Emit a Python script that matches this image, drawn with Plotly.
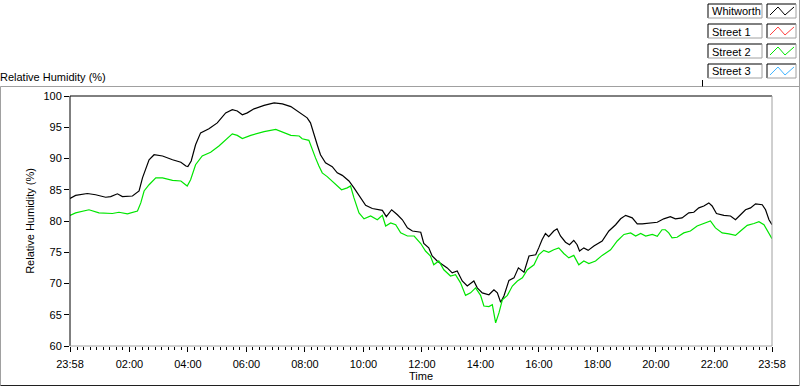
import plotly.graph_objects as go
from datetime import datetime, timedelta

# ---------------- data (minutes elapsed since 23:58 of the previous day) ----------------
whitworth_min = [0, 11.5, 35.6, 52.6, 73.2, 83.5, 97.3, 107.5, 128.1, 141.7, 148.7, 155.4, 162.2, 172.5,
                 189.8, 210.3, 227.4, 237.7, 241.8, 248.6, 257.6, 267.9, 285.0, 302.1, 319.3, 332.9,
                 343.2, 353.5, 363.7, 377.5, 398.1, 418.6, 435.7, 453.0, 470.1, 480.3, 486.5, 493.3,
                 500.3, 507.1, 513.8, 524.1, 537.9, 548.2, 558.5, 572.2, 582.5, 592.8, 606.4, 620.1,
                 640.7, 648.9, 659.8, 671.6, 681.8, 692.1, 702.4, 719.5, 725.7, 735.9, 742.9, 753.2,
                 763.5, 773.8, 784.0, 794.3, 804.6, 814.9, 828.4, 835.4, 845.7, 859.3, 869.6, 876.6,
                 883.4, 890.1, 900.4, 910.7, 919.8, 931.3, 941.5, 955.3, 961.5, 968.3, 975.3, 982.0,
                 992.3, 999.1, 1006.1, 1016.4, 1024.6, 1033.4, 1040.2, 1045.2, 1054.0, 1062.9, 1074.6,
                 1091.6, 1105.4, 1119.2, 1129.5, 1139.8, 1153.3, 1163.6, 1173.9, 1187.7, 1204.7, 1217.9,
                 1231.5, 1241.8, 1255.5, 1269.3, 1279.6, 1289.9, 1300.2, 1310.4, 1317.2, 1326.1, 1341.3,
                 1354.9, 1365.1, 1375.4, 1385.7, 1396.0, 1406.3, 1420.0, 1426.8, 1433.8, 1440]
whitworth_rh = [83.6, 84.1, 84.4, 84.2, 83.8, 83.9, 84.35, 83.9, 84.0, 84.8, 86.9, 88.5, 89.8, 90.6,
                90.4, 89.8, 89.4, 88.8, 88.7, 89.6, 92.2, 94.1, 94.75, 95.7, 97.3, 97.8,
                97.6, 97.0, 97.3, 97.95, 98.5, 98.9, 98.75, 98.3, 97.4, 96.9, 96.5, 95.7,
                94.1, 92.2, 90.6, 89.3, 88.7, 87.7, 87.3, 86.4, 85.3, 84.0, 82.5, 82.0,
                81.7, 80.7, 81.8, 81.0, 80.2, 78.9, 78.4, 78.2, 76.4, 75.7, 74.4, 73.6,
                73.0, 72.5, 71.7, 72.0, 70.4, 69.6, 70.4, 69.3, 68.5, 68.2, 69.0, 68.5,
                67.0, 68.0, 70.5, 70.9, 72.5, 71.8, 74.4, 74.6, 75.7, 77.0, 78.0, 77.5,
                78.4, 78.75, 77.6, 76.6, 76.2, 76.9, 76.2, 75.2, 75.7, 75.3, 76.0,
                76.8, 78.4, 79.4, 80.35, 80.9, 80.5, 79.55, 79.55, 79.7, 79.8, 80.35,
                80.7, 80.35, 80.5, 81.3, 81.4, 82.1, 82.4, 82.9, 82.4, 81.2, 80.9,
                80.8, 80.2, 81.0, 81.8, 82.1, 82.75, 82.6, 81.8, 80.2, 79.4]

street2_min = [0, 11.5, 38.9, 59.4, 87.0, 100.5, 117.8, 138.4, 145.2, 152.0, 162.2, 176.0, 189.8, 210.3,
               227.4, 237.7, 240.4, 247.4, 257.6, 271.2, 288.5, 305.5, 319.3, 332.9, 343.2, 353.5,
               370.7, 398.1, 422.1, 439.2, 453.0, 470.1, 476.2, 490.0, 496.8, 503.6, 510.6, 517.4,
               527.6, 541.4, 557.0, 568.7, 575.5, 582.5, 592.8, 603.1, 616.7, 630.4, 640.7, 647.5,
               657.8, 668.1, 678.3, 692.1, 705.9, 719.5, 729.2, 739.4, 746.2, 756.5, 766.8, 780.5,
               790.8, 801.1, 811.4, 821.7, 832.0, 842.2, 849.0, 859.3, 866.3, 873.1, 879.9, 886.9,
               897.2, 907.4, 917.7, 928.0, 938.3, 951.8, 961.5, 971.8, 982.0, 992.3, 1002.6, 1012.9,
               1023.2, 1033.4, 1043.7, 1054.0, 1064.3, 1078.1, 1091.6, 1108.9, 1122.5, 1136.3, 1150.1,
               1160.3, 1170.6, 1180.9, 1194.5, 1204.7, 1214.4, 1221.2, 1228.2, 1235.0, 1245.3, 1259.0,
               1272.6, 1286.4, 1300.2, 1313.7, 1324.0, 1337.8, 1351.6, 1365.1, 1375.4, 1389.2, 1403.0,
               1413.2, 1423.5, 1433.8, 1440]
street2_rh = [80.9, 81.3, 81.8, 81.3, 81.2, 81.4, 81.15, 81.6, 82.9, 84.8, 85.8, 86.9, 86.9, 86.5,
              86.4, 85.7, 85.6, 86.6, 89.0, 90.4, 91.0, 92.0, 93.0, 93.95, 93.7, 93.2,
              93.7, 94.3, 94.65, 94.1, 93.7, 93.6, 93.15, 92.9, 91.4, 90.1, 88.8, 87.7,
              87.1, 86.1, 85.0, 85.3, 85.6, 83.7, 81.3, 80.35, 80.8, 80.2, 80.9, 79.2,
              79.7, 79.4, 78.1, 77.6, 77.6, 76.4, 75.2, 74.4, 73.0, 73.6, 72.2, 71.2,
              71.4, 70.1, 68.1, 68.5, 69.3, 68.1, 66.4, 66.3, 66.6, 63.7, 65.3, 67.4,
              68.1, 69.6, 70.4, 70.9, 72.2, 73.0, 74.6, 75.3, 75.0, 75.4, 75.7, 74.8,
              74.1, 74.5, 73.0, 73.6, 73.2, 73.6, 74.5, 75.4, 76.8, 77.85, 78.1,
              77.6, 78.0, 77.6, 77.85, 77.55, 78.6, 78.6, 78.1, 77.3, 77.4, 78.1,
              78.4, 79.2, 79.6, 80.0, 78.9, 78.1, 77.95, 77.7, 78.4, 79.3, 79.6,
              79.9, 79.4, 78.1, 77.15]

legend_names = ["Whitworth", "Street 1", "Street 2", "Street 3"]
legend_colors = ["#000000", "#ff4040", "#00e600", "#40b4ff"]
x_tick_labels = ["23:58", "02:00", "04:00", "06:00", "08:00", "10:00", "12:00",
                 "14:00", "16:00", "18:00", "20:00", "22:00", "23:58"]
y_ticks = [60, 65, 70, 75, 80, 85, 90, 95, 100]

# ---------------- build ----------------
start = datetime(2000, 1, 1, 23, 58)
end = start + timedelta(hours=24)
xw = [start + timedelta(minutes=m) for m in whitworth_min]
xs = [start + timedelta(minutes=m) for m in street2_min]

tickvals = []
for i, lab in enumerate(x_tick_labels):
    if i == 0:
        tickvals.append(start)
    elif i == len(x_tick_labels) - 1:
        tickvals.append(end)
    else:
        h, m = map(int, lab.split(":"))
        tickvals.append(datetime(2000, 1, 2, h, m))

FONT = "Liberation Sans"
fig = go.Figure()
fig.add_trace(go.Scatter(x=xw, y=whitworth_rh, mode="lines", name=legend_names[0],
                         line=dict(color=legend_colors[0], width=1.2), showlegend=False))
fig.add_trace(go.Scatter(x=xs, y=street2_rh, mode="lines", name=legend_names[2],
                         line=dict(color=legend_colors[2], width=1.2), showlegend=False))

W, H = 800, 386
L, R, T, B = 70, 28, 96, 40
PW, PH = W - L - R, H - T - B


def px(x):
    return (x - L) / PW


def py(y):
    return (H - B - y) / PH


shapes = []


def line(x0, y0, x1, y1, color, width=1):
    shapes.append(dict(type="line", xref="paper", yref="paper", x0=px(x0), y0=py(y0),
                       x1=px(x1), y1=py(y1), line=dict(color=color, width=width)))


# plot area frame
line(L, T, L + PW, T, "#000000")
line(L, T, L, T + PH, "#000000")
line(L, T + PH, L + PW, T + PH, "#a0a0a0")
line(L + PW, T, L + PW, T + PH, "#a0a0a0")

# outer frame
line(0.5, 86.5, 799.5, 86.5, "#a0a0a0")
line(0.5, 86.5, 0.5, 385.5, "#a0a0a0")
line(0.5, 385.5, 799.5, 385.5, "#202020")
line(799.5, 0, 799.5, 385.5, "#a0a0a0")
line(702.5, 80, 702.5, 86.5, "#000000")

annotations = []
# legend boxes
for i, (name, col) in enumerate(zip(legend_names, legend_colors)):
    y0 = 4 + 20 * i
    y1 = y0 + 14
    for (a, b) in [(708, 762), (767, 796)]:
        line(a, y0, b, y0, "#000000")
        line(a, y0, a, y1, "#000000")
        line(a, y1, b, y1, "#a0a0a0")
        line(b, y0, b, y1, "#a0a0a0")
    # zigzag sample
    pts = [(770, y1 - 3), (778, y0 + 3), (785, y1 - 3), (794, y0 + 3)]
    path = "M " + " L ".join(f"{px(a)},{py(b)}" for a, b in pts)
    shapes.append(dict(type="path", xref="paper", yref="paper", path=path,
                       line=dict(color=col, width=1)))
    annotations.append(dict(xref="paper", yref="paper", x=px(709.5), y=py(y0 + 7.5),
                            text=name, showarrow=False, xanchor="left", yanchor="middle",
                            font=dict(family=FONT, size=11, color="#000000")))

annotations.append(dict(xref="paper", yref="paper", x=px(-2), y=py(77), text="Relative Humidity (%)",
                        showarrow=False, xanchor="left", yanchor="middle",
                        font=dict(family=FONT, size=11, color="#000000")))

fig.update_layout(
    width=W, height=H,
    margin=dict(l=L, r=R, t=T, b=B, pad=0),
    paper_bgcolor="white", plot_bgcolor="white",
    font=dict(family=FONT, size=11, color="#000000"),
    shapes=shapes, annotations=annotations, showlegend=False,
    xaxis=dict(type="date", range=[start, end], tickmode="array", tickvals=tickvals,
               ticktext=x_tick_labels, ticks="outside", ticklen=5, tickwidth=1, tickcolor="#000000",
               showgrid=False, zeroline=False, showline=False, ticklabelstandoff=3,
               minor=dict(dtick=800000, tick0="2000-01-02 02:00", ticks="outside", ticklen=3,
                          tickcolor="#000000", showgrid=False),
               title=dict(text="Time", standoff=3, font=dict(family=FONT, size=11)),
               tickfont=dict(family=FONT, size=11), automargin=False),
    yaxis=dict(range=[60, 100], tickmode="array", tickvals=y_ticks, ticks="outside", ticklen=5,
               tickwidth=1, tickcolor="#000000", showgrid=False, zeroline=False, showline=False,
               title=dict(text="Relative Humidity (%)", standoff=6, font=dict(family=FONT, size=11)),
               tickfont=dict(family=FONT, size=11), automargin=False),
)

fig.write_html("out.html", config={"displayModeBar": False},
               post_script="document.body.style.margin='0';document.body.style.overflow='hidden';")
